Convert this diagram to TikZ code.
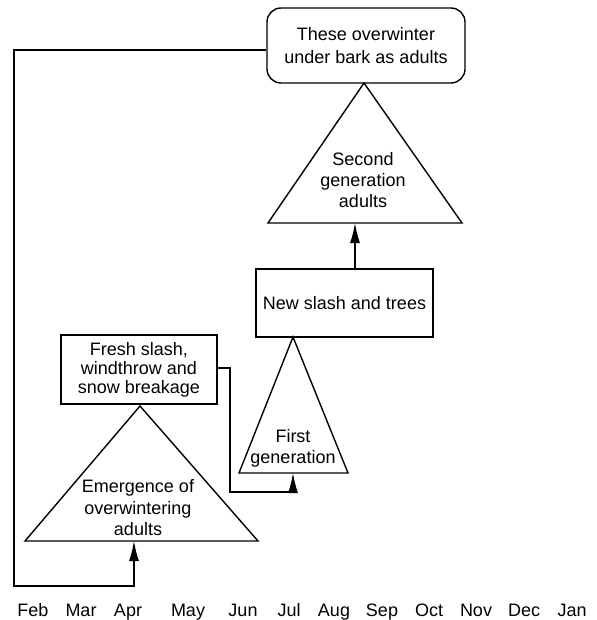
\documentclass[tikz,border=0pt]{standalone}
\usepackage{fontspec}
\setmainfont{Liberation Sans}
\usetikzlibrary{arrows.meta}
\begin{document}
\begin{tikzpicture}[x=1pt,y=-1pt,
  line width=1.4pt,
  lbl/.style={font=\fontsize{18}{21}\selectfont, align=center, inner sep=0pt},
  boxnode/.style={draw, inner sep=0pt, font=\fontsize{18}{19}\selectfont, align=center},
  arr/.style={-{Latex[length=20pt,width=10pt]}},
  month/.style={font=\fontsize{18}{20}\selectfont, inner sep=0pt, anchor=base}]
\useasboundingbox (0,0) rectangle (596,620);

% boxes
\node[boxnode, rounded corners=14pt, minimum width=198pt, minimum height=75pt,
  font=\fontsize{18}{23}\selectfont] (top) at (366,45.5) {These overwinter\\under bark as adults};
\node[boxnode, minimum width=177pt, minimum height=68pt] (newslash) at (344.5,303) {New slash and trees};
\node[boxnode, minimum width=156pt, minimum height=69pt] (fresh) at (139,369.5) {Fresh slash,\\windthrow and\\snow breakage};

% triangles
\coordinate (t2a) at (364,83);
\coordinate (t2l) at (268,223);
\coordinate (t2r) at (462,223);
\draw (t2a) -- (t2l) -- (t2r) -- cycle;
\node[lbl] (t2text) at (363,180) {Second\\generation\\adults};

\coordinate (t1a) at (293,337);
\coordinate (t1l) at (239,473);
\coordinate (t1r) at (348,473);
\draw (t1a) -- (t1l) -- (t1r) -- cycle;
\node[lbl] (t1text) at (293,448) {First\\generation};

\coordinate (t0a) at (140,406);
\coordinate (t0l) at (25,541);
\coordinate (t0r) at (258,541);
\draw (t0a) -- (t0l) -- (t0r) -- cycle;
\node[lbl, font=\fontsize{18}{21.5}\selectfont] (t0text) at (138,508) {Emergence of\\overwintering\\adults};

% connectors
\coordinate (t2base) at (355,223);
\coordinate (nsTop) at (355,269);
\draw[arr] (nsTop) -- (t2base);

\coordinate (t1base) at (293,473);
\draw[arr] (fresh.east |- 0,368) -- (230,368) -- (230,492) -- (293,492) -- (t1base);

\coordinate (t0base) at (134,541);
\draw[arr] (top.west |- 0,50) -- (14,50) -- (14,586) -- (134,586) -- (t0base);

% months
\foreach \m/\x in {Feb/33,Mar/81,Apr/128,May/188,Jun/243,Jul/289,Aug/334,Sep/382,Oct/429,Nov/476,Dec/524,Jan/572}
  \node[month] (m\m) at (\x,616) {\m};
\end{tikzpicture}
\end{document}
